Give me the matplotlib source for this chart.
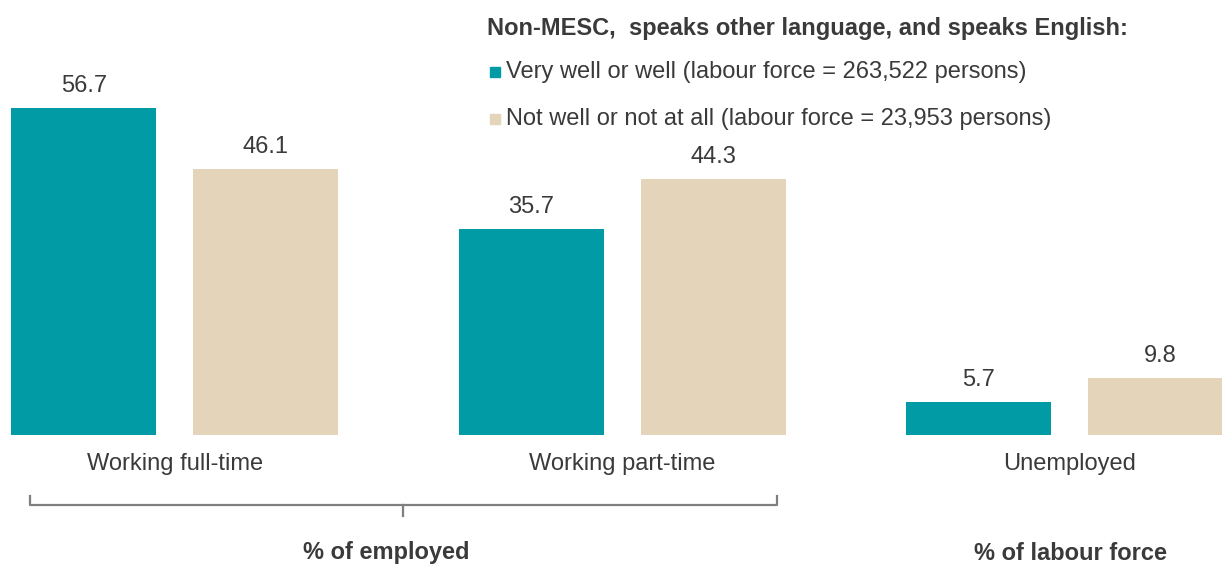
import matplotlib
matplotlib.use("Agg")
import matplotlib.pyplot as plt
from matplotlib.lines import Line2D
from matplotlib.patches import Rectangle

plt.rcParams['font.family'] = ['Liberation Sans', 'DejaVu Sans']

categories = ["Working full-time", "Working part-time", "Unemployed"]
well = [56.7, 35.7, 5.7]
not_well = [46.1, 44.3, 9.8]
legend_title = "Non-MESC,  speaks other language, and speaks English:"
legend_labels = ["Very well or well (labour force = 263,522 persons)",
                 "Not well or not at all (labour force = 23,953 persons)"]
group_labels = ["% of employed", "% of labour force"]

TEAL = "#009ba4"
BEIGE = "#e3d4ba"
TEXT = "#3a3a3a"
LINE = "#7f7f7f"
FS = 17

W, H = 1222, 564
fig = plt.figure(figsize=(W / 100, H / 100), dpi=100)


def fx(px):
    return px / W


def fy(py):
    return 1 - py / H


# plot area: baseline at y=435px, running up to the top of the figure
ax = fig.add_axes([0, fy(435), 1, 435 / H])
bw = 0.324
off = 0.203
xs = list(range(len(categories)))
b1 = ax.bar([x - off for x in xs], well, bw, color=TEAL)
b2 = ax.bar([x + off for x in xs], not_well, bw, color=BEIGE)
ax.set_xlim(-0.3905, -0.3905 + W / 447.5)
ax.set_ylim(0, 435 / 5.77)
ax.axis("off")

for bars, vals in ((b1, well), (b2, not_well)):
    for rect, v in zip(bars, vals):
        ax.annotate(f"{v:.1f}", (rect.get_x() + rect.get_width() / 2, v),
                    xytext=(0, 16), textcoords="offset points",
                    ha="center", va="center", fontsize=FS, color=TEXT)

for x, lab in zip(xs, categories):
    ax.annotate(lab, (x, 0), xycoords=("data", "axes fraction"),
                xytext=(0, -21), textcoords="offset points",
                ha="center", va="center", fontsize=FS, color=TEXT)

# bracket under the two employment groups
for xd, yd in (([30, 30, 777, 777], [496, 505, 505, 496]), ([403, 403], [505, 516])):
    fig.add_artist(Line2D([fx(v) for v in xd], [fy(v) for v in yd],
                          color=LINE, lw=1.6, solid_joinstyle="round"))

fig.text(fx(386), fy(553), group_labels[0], ha="center", va="center",
         fontsize=FS, fontweight="bold", color=TEXT)
fig.text(fx(1071), fy(553), group_labels[1], ha="center", va="center",
         fontsize=FS, fontweight="bold", color=TEXT)

# legend
fig.text(fx(487), fy(29), legend_title, ha="left", va="center",
         fontsize=FS, fontweight="bold", color=TEXT)
for yc, col, lab in zip((72, 119), (TEAL, BEIGE), legend_labels):
    fig.add_artist(Rectangle((fx(490), fy(yc + 5)), fx(10), 10 / H,
                             color=col, transform=fig.transFigure))
    fig.text(fx(506), fy(yc), lab, ha="left", va="center",
             fontsize=FS, color=TEXT)

fig.savefig("out.png", dpi=100)
